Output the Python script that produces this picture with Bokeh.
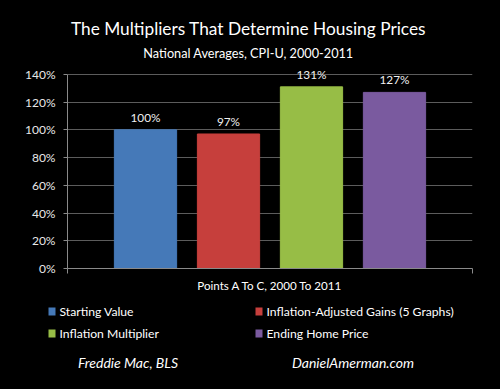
from bokeh.plotting import figure
from bokeh.layouts import column
from bokeh.models import (Range1d, FixedTicker, PrintfTickFormatter, LabelSet,
                          ColumnDataSource)
from bokeh.core.properties import value
from bokeh.embed import file_html
from bokeh.resources import INLINE

# ---- data ----
categories = ["Starting Value", "Inflation-Adjusted Gains (5 Graphs)",
              "Inflation Multiplier", "Ending Home Price"]
values = [100, 97, 131, 127]
bar_colors = ["#4579b8", "#c63f3c", "#97bd46", "#7a5a9f"]
y_ticks = [0, 20, 40, 60, 80, 100, 120, 140]
title_text = "The Multipliers That Determine Housing Prices"
subtitle_text = "National Averages, CPI-U, 2000-2011"
xlabel_text = "Points A To C, 2000 To 2011"
source_left = "Freddie Mac, BLS"
source_right = "DanielAmerman.com"

FONT = "Lato"
W = 500
TOP_H, MAIN_H = 60, 216           # rows 0-60, 60-276, 276-389
BOT_H = 389 - TOP_H - MAIN_H
FL, FR = 67, 472                  # frame left/right (px)
X0, X1 = 0.06, len(categories) + 0.94
Y_TOP = 150                       # headroom for value labels above 140%


def text_fig(h):
    f = figure(width=W, height=h, x_range=Range1d(0, W), y_range=Range1d(h, 0),
               output_backend="svg", toolbar_location=None,
               x_axis_location=None, y_axis_location=None,
               min_border=0, background_fill_color="black",
               border_fill_color="black", outline_line_color=None,
               frame_align=False)
    f.grid.visible = False
    return f


# ---- top: titles ----
top = text_fig(TOP_H)
top.text(x=[248], y=[28], text=[title_text], text_align="center",
         text_baseline="middle", text_color="white", text_font_size="17.3px",
         text_font=value(FONT))
top.text(x=[248], y=[52], text=[subtitle_text], text_align="center",
         text_baseline="middle", text_color="white", text_font_size="12.7px",
         text_font=value(FONT))

# ---- main chart ----
p = figure(width=W, height=MAIN_H, x_range=Range1d(X0, X1),
           y_range=Range1d(0, Y_TOP),
           output_backend="svg", toolbar_location=None,
           min_border_left=FL, min_border_right=W - FR, min_border_top=0,
           min_border_bottom=8,
           background_fill_color="black", border_fill_color="black",
           outline_line_color=None, frame_align=False)

positions = list(range(1, len(categories) + 1))
src = ColumnDataSource(dict(x=positions, value=values, color=bar_colors,
                            label=[f"{v}%" for v in values]))
p.vbar(x="x", top="value", width=0.75, bottom=0, source=src,
       fill_color="color", line_color="color", line_width=1)

p.add_layout(LabelSet(x="x", y="value", text="label", source=src, y_offset=5,
                      text_align="center", text_baseline="bottom",
                      text_color="#f0f0f0", text_font_size="11.8px",
                      text_font=value(FONT)))

p.yaxis.ticker = FixedTicker(ticks=y_ticks)
p.yaxis.bounds = (0, 140)
p.yaxis.formatter = PrintfTickFormatter(format="%d%%")
p.yaxis.major_label_text_font_size = "12px"
p.yaxis.major_label_text_font = FONT
p.yaxis.major_label_text_color = "#e8e8e8"
p.yaxis.axis_line_color = "#8a8a8a"
p.yaxis.major_tick_line_color = "#8a8a8a"
p.yaxis.major_tick_out = 4
p.yaxis.major_tick_in = 0
p.yaxis.minor_tick_line_color = None
p.yaxis.major_label_standoff = 8

p.xaxis.ticker = FixedTicker(ticks=[X0, X1])
p.xaxis.major_label_text_alpha = 0
p.xaxis.major_label_text_font_size = "0px"
p.xaxis.major_label_standoff = 0
p.xaxis.axis_line_color = "#8a8a8a"
p.xaxis.major_tick_line_color = "#8a8a8a"
p.xaxis.major_tick_out = 5
p.xaxis.major_tick_in = 0
p.xaxis.minor_tick_line_color = None

p.xgrid.visible = False
p.ygrid.grid_line_color = "#5c5c5c"

# ---- bottom: axis title, legend, sources ----
bot = text_fig(BOT_H)
bot.text(x=[269.5], y=[9], text=[xlabel_text], text_align="center",
         text_baseline="middle", text_color="white", text_font_size="11.6px",
         text_font=value(FONT))

leg_x = [51.5, 258.5, 51.5, 258.5]
leg_y = [35, 35, 57, 57]
bot.rect(x=leg_x, y=leg_y, width=7, height=8, fill_color=bar_colors,
         line_color=None)
bot.text(x=[x + 7.5 for x in leg_x], y=leg_y, text=categories, text_align="left",
         text_baseline="middle", text_color="white", text_font_size="12.2px",
         text_font=value(FONT))

bot.text(x=[127.5, 352.5], y=[86, 86], text=[source_left, source_right],
         text_align="center", text_baseline="middle", text_color="white",
         text_font_size="14px", text_font=value(FONT), text_font_style="italic")

layout = column(top, p, bot, spacing=0)
html = file_html(layout, INLINE)
html = html.replace("</head>",
                    "<style>html,body{background:#000;}</style></head>", 1)
open("out.html", "w").write(html)
